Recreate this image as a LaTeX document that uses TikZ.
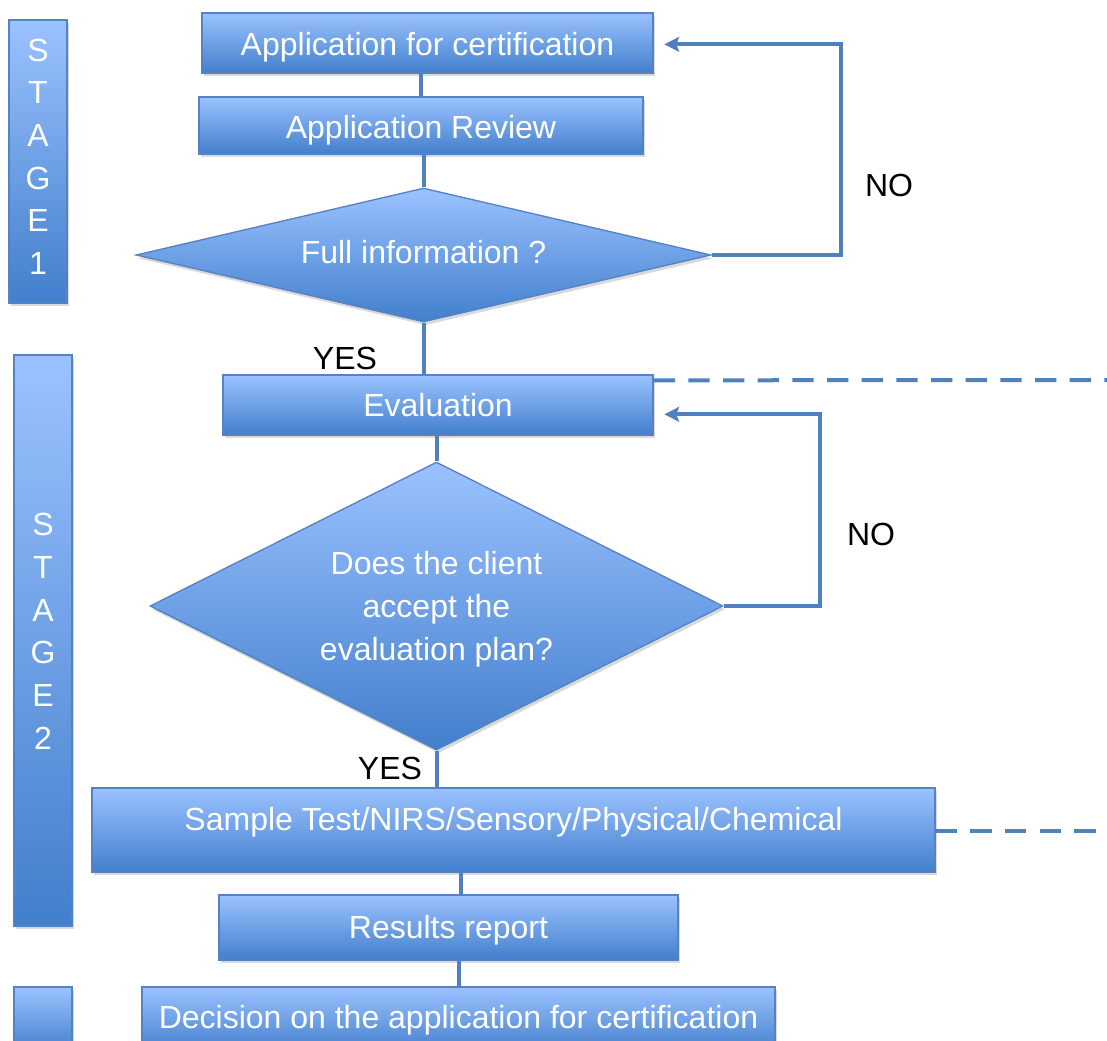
\documentclass[tikz,border=0pt]{standalone}
\usepackage{fontspec}
\setmainfont{Liberation Sans}
\usetikzlibrary{shapes.geometric,shadows,arrows.meta}

\definecolor{boxtop}{RGB}{155,194,255}
\definecolor{boxbot}{RGB}{66,127,204}
\definecolor{boxline}{RGB}{84,130,195}
\definecolor{flowline}{RGB}{79,129,189}

\def\px{0.75pt}

\tikzset{
  flowbox/.style={draw=boxline, line width=1pt, top color=boxtop, bottom color=boxbot,
    text=white, font=\fontsize{24}{32}\selectfont, inner sep=0pt, align=center,
    drop shadow={opacity=0.3, shadow xshift=1.5pt, shadow yshift=-2.5pt}},
  decision/.style={flowbox, diamond},
  flow/.style={draw=flowline, line width=3pt},
  loopback/.style={flow, ->, shorten >=8pt},
  linkdash/.style={draw=flowline, line width=3pt, dash pattern=on 16pt off 10pt},
  answer/.style={font=\fontsize{24}{28}\selectfont}
}

\begin{document}
\begin{tikzpicture}[x=\px, y=-\px, >={Stealth[length=11pt, width=11pt, inset=2pt]}]
        \useasboundingbox (0,0) rectangle (1107,1041);
        \clip (0,0) rectangle (1107,1041);
        % stages
        \node[flowbox, minimum width=58*\px, minimum height=283*\px, text depth=7.5pt] (stage1) at (38,161.5) {S\\T\\A\\G\\E\\1};
        \node[flowbox, minimum width=58*\px, minimum height=571*\px, text depth=14pt] (stage2) at (43,640.5) {S\\T\\A\\G\\E\\2};
        \node[flowbox, minimum width=58*\px, minimum height=66*\px] (stage3) at (43,1020) {};
        % steps
        \node[flowbox, minimum width=451*\px, minimum height=60*\px, text height=23pt] (appl) at (427.5,43) {Application for certification};
        \node[flowbox, minimum width=444*\px, minimum height=57*\px, text height=24pt] (review) at (421,125.5) {Application Review};
        \node[decision, aspect=4.3, minimum width=575*\px, minimum height=134*\px, text depth=4.5pt] (fullinfo) at (423.5,255) {Full information ?};
        \node[flowbox, minimum width=430*\px, minimum height=60*\px] (eval) at (438,405) {Evaluation};
        \node[decision, aspect=2, minimum width=573*\px, minimum height=288*\px, text depth=-2.5pt] (accept) at (436.5,606) {Does the client\\accept the\\evaluation plan?};
        \node[flowbox, minimum width=843*\px, minimum height=84*\px, text depth=17pt] (sample) at (513.5,830) {Sample Test/NIRS/Sensory/Physical/Chemical};
        \node[flowbox, minimum width=459*\px, minimum height=65*\px, text height=21pt] (results) at (448.5,927.5) {Results report};
        \node[flowbox, minimum width=633*\px, minimum height=66*\px] (decide) at (458.5,1020) {Decision on the application for certification};
        % answers
        \node[answer] (no1) at (889,185) {NO};
        \node[answer] (no2) at (871,534) {NO};
        \node[answer] (yes1) at (345,358) {YES};
        \node[answer] (yes2) at (390,768) {YES};
        % links
        \draw[flow] (review.north) -- (review.north |- appl.south);
        \draw[flow] (fullinfo.north) -- (fullinfo.north |- review.south);
        \draw[flow] (fullinfo.south) -- (fullinfo.south |- eval.north);
        \draw[flow] (accept.north) -- (accept.north |- eval.south);
        \draw[flow] (accept.south) -- (accept.south |- sample.north);
        \draw[flow] ([xshift=9pt]results.north) -- ([xshift=9pt]results.north |- sample.south);
        \draw[flow] (decide.north) -- (decide.north |- results.south);
        % loops back
        \coordinate (turn1) at (841,0);
        \coordinate (turn2) at (820,0);
        \draw[loopback] (fullinfo.east) -- (fullinfo.east -| turn1) |- ([yshift=-1pt]appl.east);
        \draw[loopback] (accept.east) -- (accept.east -| turn2) |- ([yshift=-7pt]eval.east);
        % dashed links
        \coordinate (edge1) at (1130,380);
        \coordinate (edge2) at (1130,831);
        \draw[linkdash] ([yshift=-4.5pt]eval.north east) -- (edge1);
        \draw[linkdash] ([yshift=-0.75pt]sample.east) -- (edge2);
      \end{tikzpicture}
\end{document}
